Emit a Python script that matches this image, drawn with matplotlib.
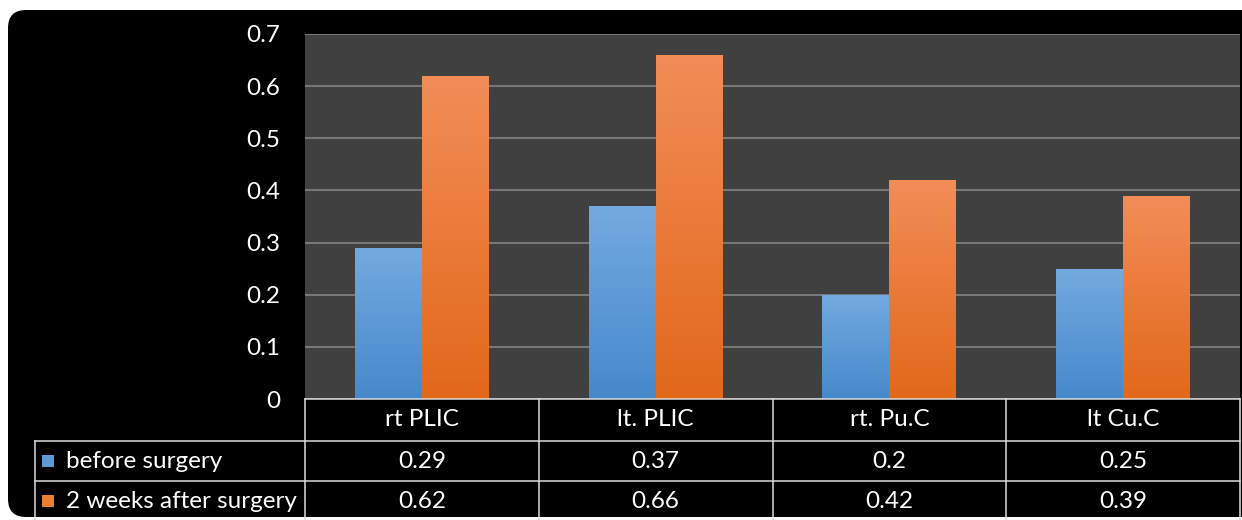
import numpy as np
import matplotlib
matplotlib.use('Agg')
import matplotlib.pyplot as plt
from matplotlib.patches import FancyBboxPatch, Rectangle
from matplotlib.transforms import IdentityTransform
from matplotlib.colors import LinearSegmentedColormap

categories = ['rt PLIC', 'lt. PLIC', 'rt. Pu.C', 'lt Cu.C']
series_names = ['before surgery', '2 weeks after surgery']
before = [0.29, 0.37, 0.2, 0.25]
after = [0.62, 0.66, 0.42, 0.39]
before_labels = ['0.29', '0.37', '0.2', '0.25']
after_labels = ['0.62', '0.66', '0.42', '0.39']
yticks = [0, 0.1, 0.2, 0.3, 0.4, 0.5, 0.6, 0.7]
ytick_labels = ['0', '0.1', '0.2', '0.3', '0.4', '0.5', '0.6', '0.7']

blue_top, blue_bot, blue_solid = '#74aadf', '#4589cb', '#5b9bd5'
orange_top, orange_bot, orange_solid = '#f28d58', '#e2681a', '#ed7d31'

FONT = ['Lato', 'DejaVu Sans']
FS = 17.5

W, H = 1242, 520
fig = plt.figure(figsize=(W / 100, H / 100), dpi=100)
fig.patch.set_facecolor('white')

# black rounded background
bg = FancyBboxPatch((8, 3), 1320, 507, boxstyle='round,pad=0,rounding_size=18',
                    transform=IdentityTransform(), facecolor='black', edgecolor='none', zorder=0)
fig.add_artist(bg)

left_px, right_px, top_px, bot_px = 305, 1240, 34, 399
ax = fig.add_axes([left_px / W, (H - bot_px) / H, (right_px - left_px) / W, (bot_px - top_px) / H])
ax.set_facecolor('#404040')
ax.set_xlim(-0.5, len(categories) - 0.5)
ax.set_ylim(0, 0.7)
ax.set_yticks(yticks)
ax.set_yticklabels(ytick_labels, color='white', fontsize=FS, family=FONT)
ax.set_xticks([])
ax.tick_params(axis='y', length=0, pad=18)
ax.yaxis.grid(True, color='#8a8a8a', lw=1.1)
ax.set_axisbelow(True)
for s in ax.spines.values():
    s.set_visible(False)

w = 0.2866
x = np.arange(len(categories))
grad = np.linspace(0, 1, 256).reshape(-1, 1)
for vals, off, ct, cb in [(before, -w / 2, blue_top, blue_bot), (after, w / 2, orange_top, orange_bot)]:
    bars = ax.bar(x + off, vals, width=w, color='none', edgecolor='none', zorder=3)
    cmap = LinearSegmentedColormap.from_list('g', [cb, ct])
    for b in bars:
        x0, y0 = b.get_x(), b.get_y()
        x1, y1 = x0 + b.get_width(), y0 + b.get_height()
        im = ax.imshow(grad, cmap=cmap, aspect='auto', extent=[x0, x1, y0, y1], origin='lower', zorder=3)
        im.set_clip_path(b)
ax.set_xlim(-0.5, len(categories) - 0.5)
ax.set_ylim(0, 0.7)

# data table (pixel coordinates, y downward)
tax = fig.add_axes([0, 0, 1, 1], zorder=5)
tax.set_xlim(0, W)
tax.set_ylim(H, 0)
tax.axis('off')
tax.patch.set_alpha(0)

fig.canvas.draw()
edges = [ax.transData.transform((i - 0.5, 0))[0] for i in range(len(categories) + 1)]
centers = [ax.transData.transform((i, 0))[0] for i in range(len(categories))]
row_y = [399, 441, 481, 521]
label_left = 35
lc = '#dcdcdc'
lw = 1.1
tax.plot([edges[0], edges[-1]], [row_y[0], row_y[0]], color=lc, lw=lw)
for yy in row_y[1:3]:
    tax.plot([label_left, edges[-1]], [yy, yy], color=lc, lw=lw)
for ex in edges:
    tax.plot([ex, ex], [row_y[0], H], color=lc, lw=lw)
tax.plot([label_left, label_left], [row_y[1], H], color=lc, lw=lw)

for c, cx in zip(categories, centers):
    tax.text(cx, (row_y[0] + row_y[1]) / 2, c, color='white', fontsize=FS, family=FONT,
             ha='center', va='center')
for r, (name, labs, col) in enumerate([(series_names[0], before_labels, blue_solid),
                                        (series_names[1], after_labels, orange_solid)]):
    yc = (row_y[r + 1] + row_y[r + 2]) / 2
    tax.add_patch(Rectangle((42, yc - 6), 12, 12, facecolor=col, edgecolor='none'))
    tax.text(66, yc, name, color='white', fontsize=FS, family=FONT, ha='left', va='center')
    for lab, cx in zip(labs, centers):
        tax.text(cx, yc, lab, color='white', fontsize=FS, family=FONT, ha='center', va='center')

fig.savefig('out.png', dpi=100, facecolor='white')
